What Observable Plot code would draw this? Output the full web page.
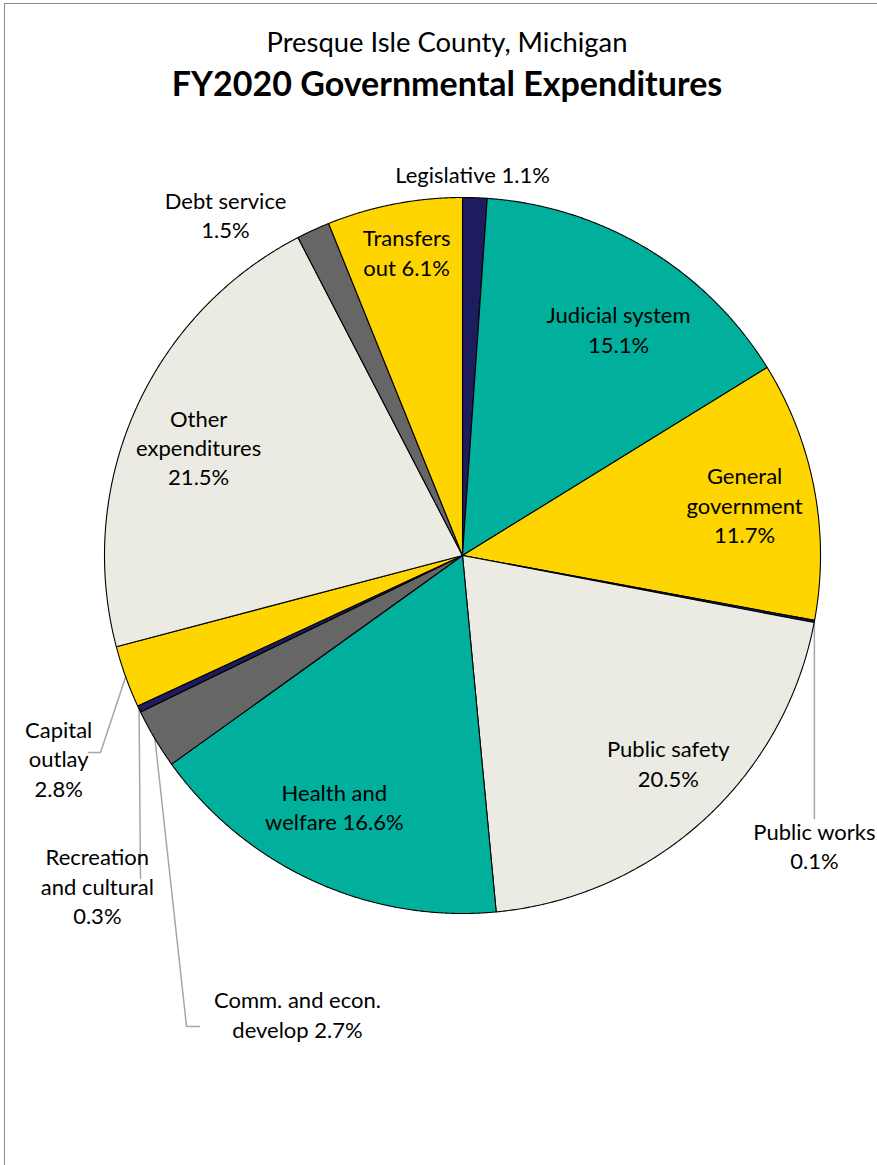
<!DOCTYPE html>
<html><head><meta charset="utf-8">
<script src="https://cdn.jsdelivr.net/npm/d3@7"></script>
<script src="https://cdn.jsdelivr.net/npm/@observablehq/plot@0.6"></script>
<style>
body{margin:0;background:#fff;}
#wrap{position:relative;width:877px;height:1165px;overflow:hidden;font-family:Lato,"Open Sans",sans-serif;}
#border{position:absolute;left:4px;top:3px;right:-10px;bottom:-10px;border-left:1px solid #8a8a8a;border-top:1px solid #8a8a8a;}
.t{position:absolute;left:0;width:894px;text-align:center;color:#000;line-height:1;white-space:nowrap;}
#t1{top:28px;font-size:27.4px;}
#t2{top:66px;font-size:34px;font-weight:bold;}
#chart{position:absolute;left:0;top:0;}
</style></head>
<body><div id="wrap"><div id="border"></div><div id="chart"></div>
<div class="t" id="t1">Presque Isle County, Michigan</div>
<div class="t" id="t2">FY2020 Governmental Expenditures</div></div>
<script>
// ---- data ----
const categories = ["Legislative", "Judicial system", "General government", "Public works", "Public safety", "Health and welfare", "Comm. and econ. develop", "Recreation and cultural", "Capital outlay", "Other expenditures", "Debt service", "Transfers out"];
const shares = [1.1, 15.1, 11.7, 0.1, 20.5, 16.6, 2.7, 0.3, 2.8, 21.5, 1.5, 6.1];
const labelTexts = ["Legislative 1.1%", "Judicial system\n15.1%", "General\ngovernment\n11.7%", "Public works\n0.1%", "Public safety\n20.5%", "Health and\nwelfare 16.6%", "Comm. and econ.\ndevelop 2.7%", "Recreation\nand cultural\n0.3%", "Capital\noutlay\n2.8%", "Other\nexpenditures\n21.5%", "Debt service\n1.5%", "Transfers\nout 6.1%"];
const sliceColors = ["#1c1c5e", "#00b09c", "#ffd500", "#1c1c5e", "#ebebe3", "#00b09c", "#666666", "#1c1c5e", "#ffd500", "#ebebe3", "#666666", "#ffd500"];

// ---- layout (pixel geometry of the pie, label anchors in pie-radius units) ----
const W = 877, H = 1165, CX = 462, CY = 555, R = 358;
const labelPos = [[0.028, 1.059], [0.436, 0.6257], [0.788, 0.134], [0.983, -0.817], [0.575, -0.587], [-0.358, -0.709], [-0.461, -1.288], [-1.02, -0.930], [-1.128, -0.574], [-0.737, 0.296], [-0.662, 0.9455], [-0.156, 0.841]];
const leaderElbows = {3: [[0.983, -0.7346]], 6: [[-0.7709, -1.3156], [-0.7346, -1.3156]], 7: [[-0.8994, -0.9022]], 8: [[-1.0112, -0.5503], [-1.0447, -0.5503]]};

const arcs = d3.pie().sort(null).value(d => d)(shares);
const slicePts = [];
arcs.forEach((a, i) => {
  const name = categories[i];
  slicePts.push({name, x: 0, y: 0});
  const n = Math.max(2, Math.ceil((a.endAngle - a.startAngle) / (Math.PI / 720)));
  for (let k = 0; k <= n; k++) {
    const t = a.startAngle + (a.endAngle - a.startAngle) * k / n;
    slicePts.push({name, x: Math.sin(t), y: Math.cos(t)});
  }
  slicePts.push({name, x: 0, y: 0});
});
const labels = categories.map((c, i) => ({name: c, text: labelTexts[i], x: labelPos[i][0], y: labelPos[i][1]}));
const leaderPts = [];
Object.entries(leaderElbows).forEach(([k, pts]) => {
  const a = arcs[+k], m = (a.startAngle + a.endAngle) / 2;
  leaderPts.push({name: categories[k], x: Math.sin(m), y: Math.cos(m)});
  pts.forEach(p => leaderPts.push({name: categories[k], x: p[0], y: p[1]}));
});

const chart = Plot.plot({
  width: W, height: H, margin: 0,
  x: {domain: [-CX / R, (W - CX) / R], axis: null},
  y: {domain: [-(H - CY) / R, CY / R], axis: null},
  color: {domain: categories, range: sliceColors},
  style: {fontFamily: "Lato, 'Open Sans', sans-serif", background: "transparent"},
  marks: [
    Plot.line(leaderPts, {x: "x", y: "y", z: "name", stroke: "#a6a6a6", strokeWidth: 1.5}),
    Plot.line(slicePts, {x: "x", y: "y", z: "name", fill: "name", stroke: "#000", strokeWidth: 1.1, strokeLinejoin: "round"}),
    Plot.text(labels, {x: "x", y: "y", text: "text", fontSize: 22, lineHeight: 1.34, dy: -3, fill: "#000"})
  ]
});
document.getElementById("chart").appendChild(chart);
</script></body></html>
